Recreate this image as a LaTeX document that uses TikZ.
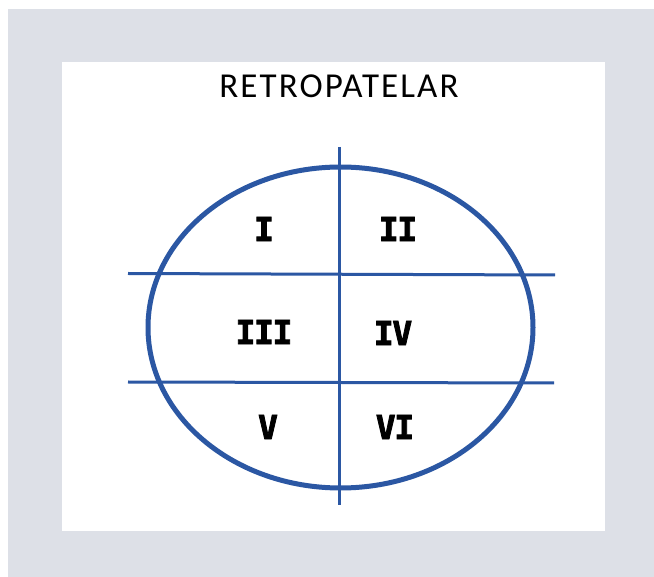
\documentclass[tikz,border=0pt]{standalone}
\usepackage{fontspec}
\newfontfamily\titlefont[LetterSpace=6]{Carlito}
\newfontfamily\numfont[FakeBold=2.5,LetterSpace=-4]{DejaVu Sans Mono Bold}
\definecolor{bgGray}{HTML}{DDE0E7}
\definecolor{lineBlue}{HTML}{2B57A3}
\tikzset{
  divline/.style={draw=lineBlue, line width=3pt},
  rim/.style={draw=lineBlue, line width=5pt},
  numlabel/.style={font=\numfont\fontsize{33}{33}\selectfont, text=black, inner sep=0pt, anchor=center},
}
\begin{document}
\begin{tikzpicture}[x=1pt,y=-1pt]
\useasboundingbox (0,0) rectangle (654,577);
\fill[white] (0,0) rectangle (654,577);
\fill[bgGray] (8,9) rectangle (654,577);
\fill[white] (62,62) rectangle (605,531);
\node[font=\titlefont\fontsize{35}{35}\selectfont, inner sep=0pt, anchor=base] (title) at (339,98) {RETROPATELAR};
\draw[rim] (340.5,327.5) ellipse [x radius=192.5, y radius=160.5];
\coordinate (vt) at (339,147);
\coordinate (vb) at (339,505);
\coordinate (h1l) at (128,273.5);
\coordinate (h1r) at (555,275);
\coordinate (h2l) at (128,382);
\coordinate (h2r) at (554,383);
\draw[divline] (vt) -- (vb);
\draw[divline] (h1l) -- (h1r);
\draw[divline] (h2l) -- (h2r);
\node[numlabel] (q1) at (264,229) {I};
\node[numlabel] (q2) at (398,229) {II};
\node[numlabel] (q3) at (264,332) {III};
\node[numlabel] (q4) at (393,333) {IV};
\node[numlabel] (q5) at (268,427) {V};
\node[numlabel] (q6) at (395,427) {VI};
\end{tikzpicture}
\end{document}
